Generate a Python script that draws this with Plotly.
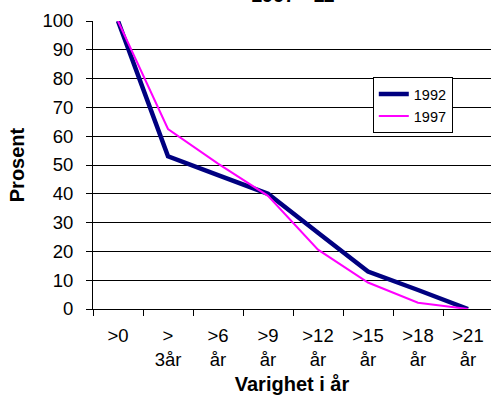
import plotly.graph_objects as go

categories = [">0", "><br>3år", ">6<br>år", ">9<br>år", ">12<br>år", ">15<br>år", ">18<br>år", ">21<br>år"]
values_1992 = [100, 53, 46.5, 40, 26.5, 13, 6.6, 0]
values_1997 = [100, 62.5, 50.5, 39.3, 20.6, 9.2, 2.2, 0]
y_ticks = list(range(0, 101, 10))

fig = go.Figure()
fig.add_trace(go.Scatter(x=categories, y=values_1992, mode="lines", name="1992",
                         line=dict(color="#000080", width=4.5)))
fig.add_trace(go.Scatter(x=categories, y=values_1997, mode="lines", name="1997",
                         line=dict(color="#FF00FF", width=2)))

font = "Liberation Sans, Arial, sans-serif"
fig.update_layout(
    width=491, height=398,
    margin=dict(l=93, r=0, t=21, b=89),
    paper_bgcolor="white", plot_bgcolor="white",
    font=dict(family=font, size=18.5, color="black"),
    showlegend=True,
    legend=dict(x=0.703, y=0.805, xanchor="left", yanchor="top",
                bordercolor="black", borderwidth=1, bgcolor="white",
                font=dict(size=14.5), entrywidth=55),
    annotations=[dict(text="<b>1997 - 11</b>", x=0.5, y=1.0, xref="paper", yref="paper",
                      xanchor="center", yanchor="bottom", yshift=13, showarrow=False,
                      font=dict(size=20))],
)
fig.update_xaxes(
    type="category", range=[-0.5, 7.46],
    showline=True, linecolor="black", linewidth=1,
    ticks="outside", tickson="boundaries", ticklen=6, tickcolor="black",
    ticklabelstandoff=10,
    showgrid=False, tickfont=dict(size=18.5),
    title=dict(text="<b>Varighet i år</b>", font=dict(size=20), standoff=7),
)
fig.update_yaxes(
    range=[0, 100], tickvals=y_ticks,
    showline=True, linecolor="black", linewidth=1,
    ticks="outside", ticklen=6, tickcolor="black",
    ticklabelstandoff=9,
    showgrid=True, gridcolor="black", gridwidth=1,
    zeroline=False, tickfont=dict(size=18.5),
    title=dict(text="<b>Prosent</b>", font=dict(size=20), standoff=12),
)

fig.write_html("out.html")
